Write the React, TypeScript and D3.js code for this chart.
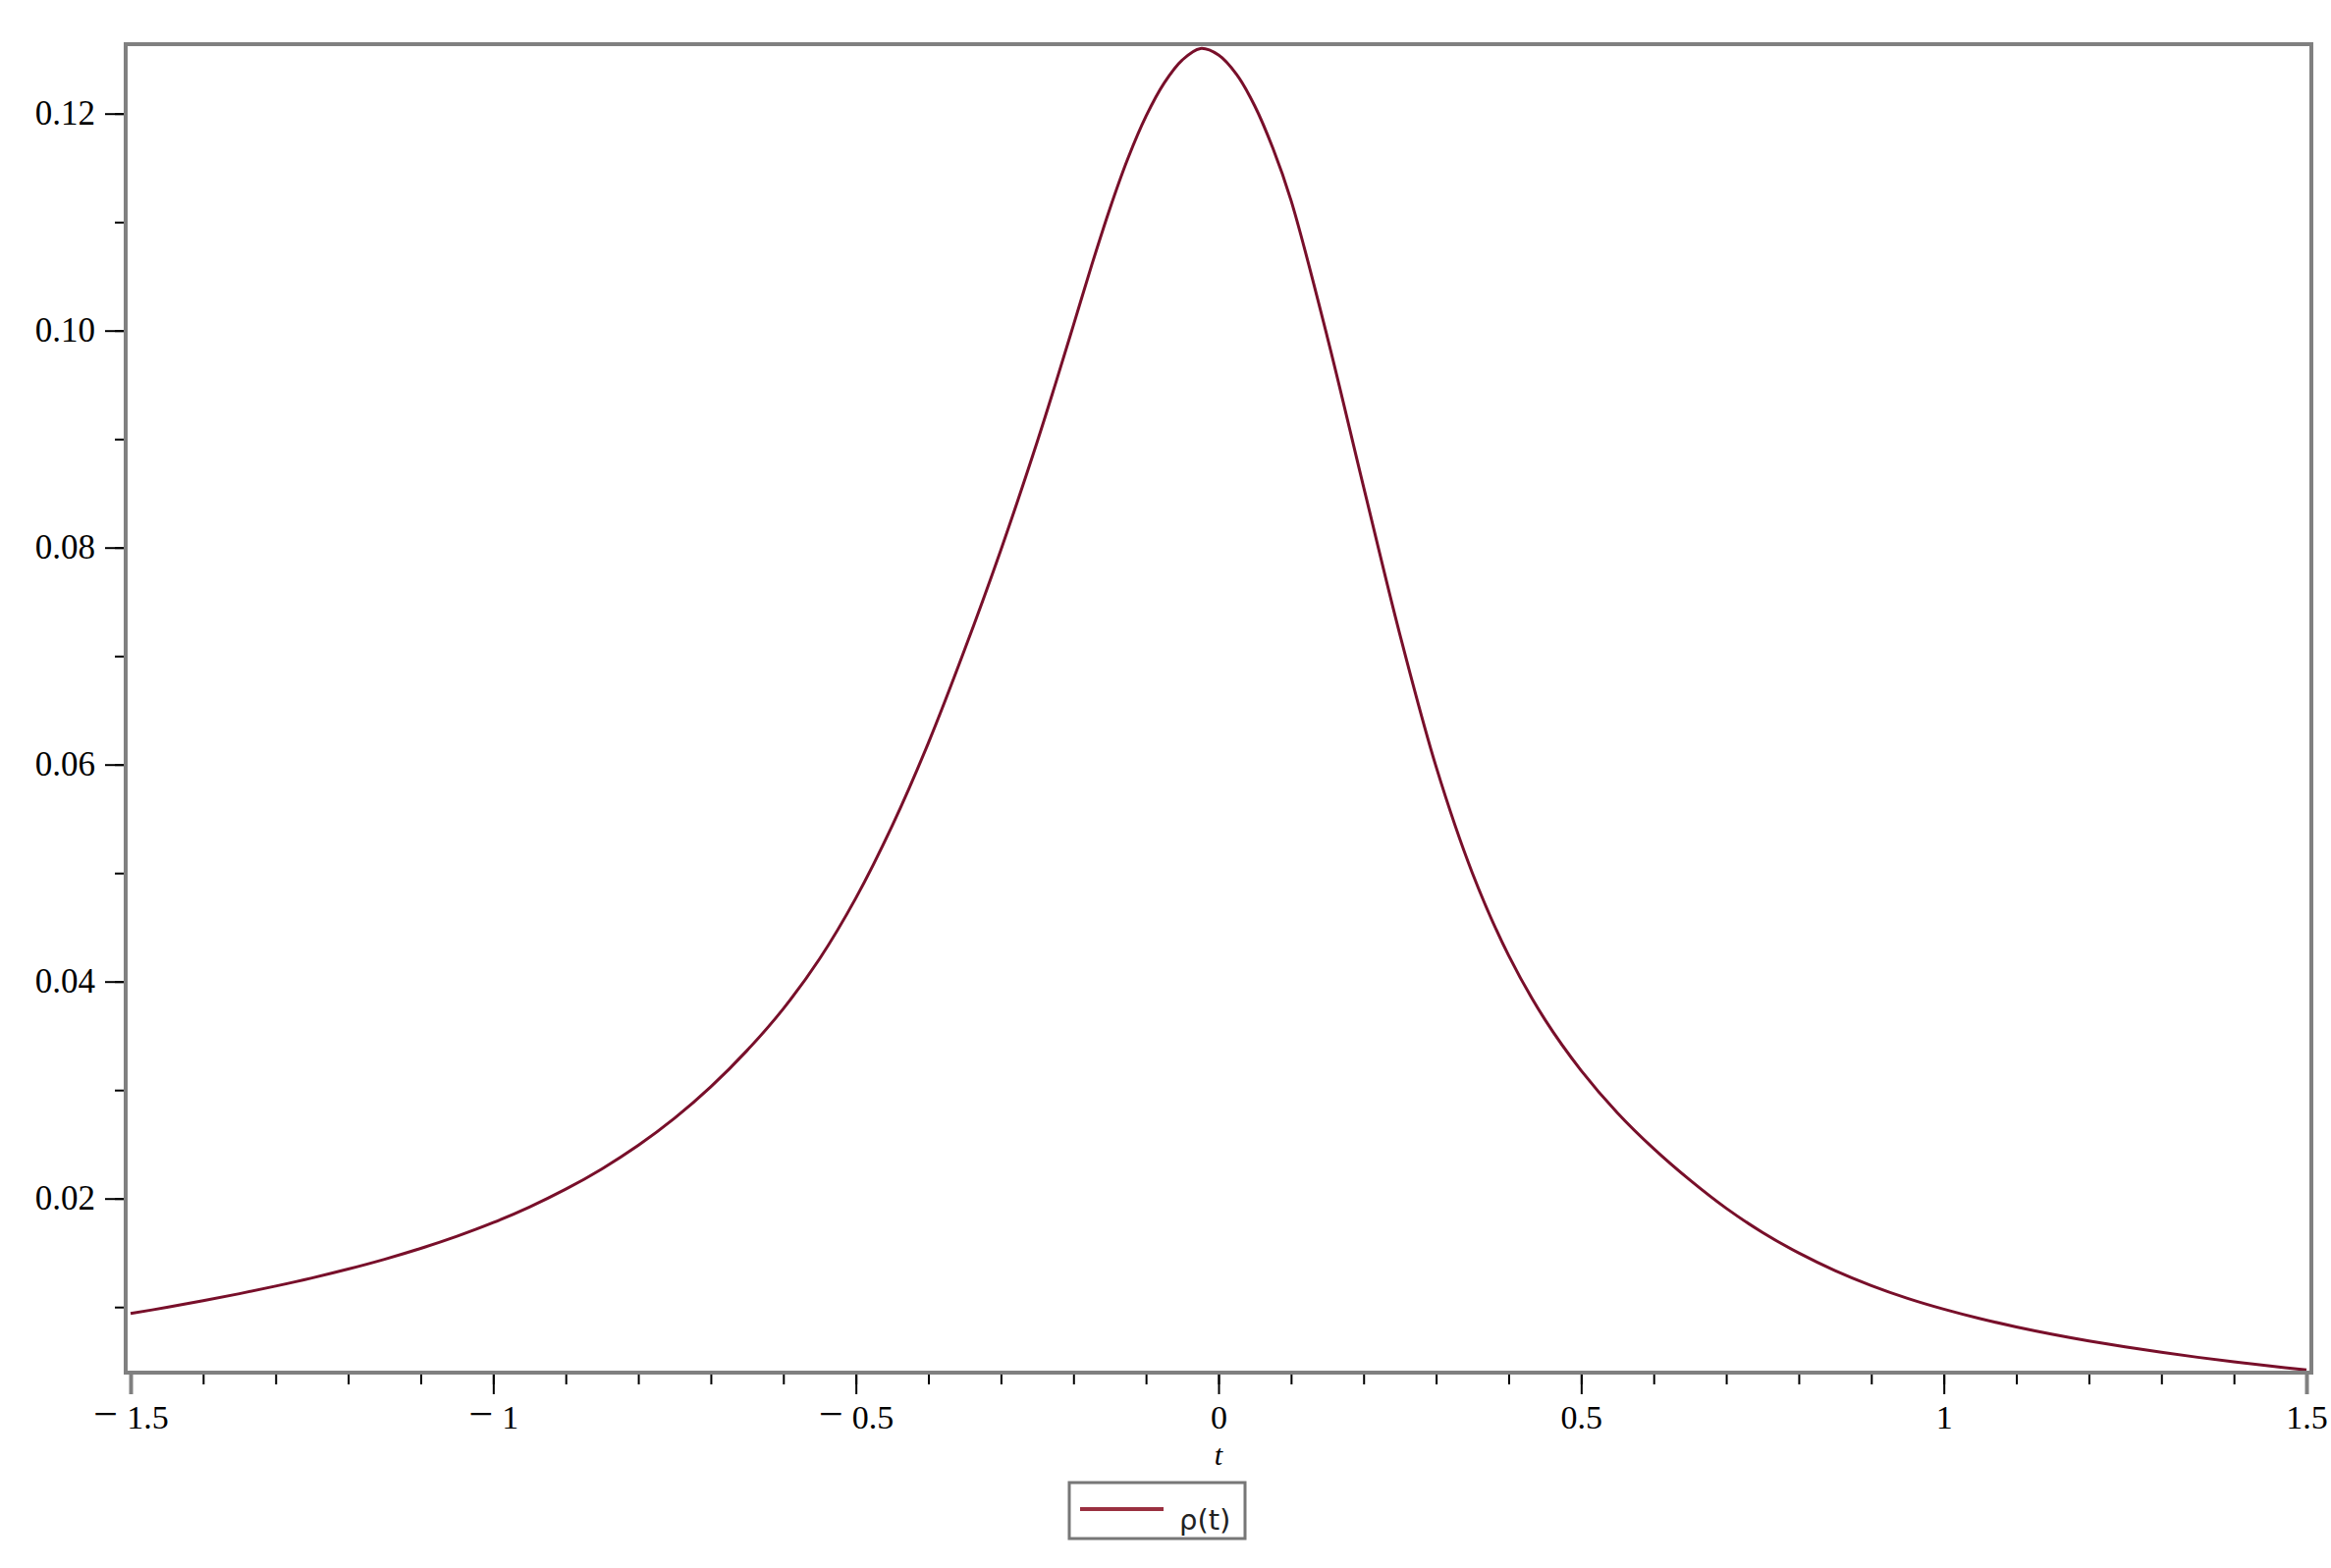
import React, { useEffect, useRef } from 'react';
import * as d3 from 'd3';

// rho(t) (denser samples around the peak)
const tValues = [
  -1.5, -1.45, -1.4, -1.35, -1.3, -1.25, -1.2, -1.15, -1.1, -1.05,
  -1.0, -0.95, -0.9, -0.85, -0.8, -0.75, -0.7, -0.65, -0.6, -0.55,
  -0.5, -0.45, -0.4, -0.35, -0.3, -0.25, -0.225, -0.2, -0.175, -0.15,
  -0.125, -0.1, -0.075, -0.05, -0.025, 0, 0.025, 0.05, 0.075, 0.1,
  0.15, 0.2, 0.25, 0.3, 0.35, 0.4, 0.45, 0.5, 0.55, 0.6,
  0.65, 0.7, 0.75, 0.8, 0.85, 0.9, 0.95, 1.0, 1.05, 1.1,
  1.15, 1.2, 1.25, 1.3, 1.35, 1.4, 1.45, 1.5
];
const rhoValues = [
  0.00940, 0.00997, 0.01058, 0.01123, 0.01193, 0.01268, 0.01350, 0.01440, 0.01540, 0.01652,
  0.01778, 0.01922, 0.02086, 0.02274, 0.02490, 0.02740, 0.03030, 0.03365, 0.03750, 0.04210,
  0.04770, 0.05435, 0.06200, 0.07060, 0.07980, 0.08975, 0.09505, 0.10050, 0.10600, 0.11120,
  0.11585, 0.11975, 0.12281, 0.12494, 0.12600, 0.12540, 0.12360, 0.12070, 0.11680, 0.11200,
  0.09940, 0.08560, 0.07200, 0.05980, 0.05000, 0.04240, 0.03650, 0.03180, 0.02790, 0.02460,
  0.02170, 0.01910, 0.01688, 0.01498, 0.01336, 0.01198, 0.01080, 0.00980, 0.00893, 0.00817,
  0.00749, 0.00688, 0.00633, 0.00583, 0.00537, 0.00495, 0.00456, 0.00420
];

// axis ticks
const xMajorTicks = [-1.5, -1, -0.5, 0, 0.5, 1, 1.5];
const xTickLabels = ['\u22121.5', '\u22121', '\u22120.5', '0', '0.5', '1', '1.5'];
const xMinorTicks = d3.range(-15, 16).map(d => d / 10);
const yMajorTicks = [0.02, 0.04, 0.06, 0.08, 0.10, 0.12];
const yTickLabels = ['0.02', '0.04', '0.06', '0.08', '0.10', '0.12'];
const yMinorTicks = d3.range(1, 13).map(d => d / 100);

const xDomain = [-1.5, 1.5];
const yDomain = [0.02, 0.12];
const legendLabel = '\u03c1(t)';
const axisTitle = 't';

export default function App() {
  const svgRef = useRef<SVGSVGElement>(null);

  const svgWidth = 2374,
        svgHeight = 1597;

  // plot frame (outer box)
  const frame = { left: 128, right: 2354, top: 45, bottom: 1398 };
  const curveColor = '#780f2a';
  const frameColor = '#808080';
  const serif = '"Liberation Serif", "Times New Roman", serif';

  useEffect(() => {
    const svg = d3.select(svgRef.current);
    svg.selectAll('*').remove();

    const x = d3.scaleLinear().domain(xDomain).range([133, 2349]);
    const y = d3.scaleLinear().domain(yDomain).range([1220.7, 115.7]);

    // x minor ticks
    const xMinor = d3.axisBottom(x).tickValues(xMinorTicks).tickSize(12).tickFormat(() => '');
    svg.append('g')
      .attr('transform', `translate(0,${frame.bottom})`)
      .call(xMinor)
      .call(g => g.select('.domain').remove())
      .call(g => g.selectAll('line').attr('stroke', '#000').attr('stroke-width', 2));

    // x major ticks + labels (the minus sign is drawn larger, like Maple does)
    const xMajor = d3.axisBottom(x).tickValues(xMajorTicks).tickSize(22)
      .tickFormat((d, i) => xTickLabels[i]);
    svg.append('g')
      .attr('transform', `translate(0,${frame.bottom})`)
      .call(xMajor)
      .call(g => g.select('.domain').remove())
      .call(g => g.selectAll('line')
        .attr('stroke', d => (Math.abs(d as number) === 1.5 ? frameColor : '#000'))
        .attr('stroke-width', d => (Math.abs(d as number) === 1.5 ? 4 : 2)))
      .call(g => g.selectAll<SVGTextElement, number>('text')
        .attr('y', 57).attr('dy', null)
        .attr('fill', '#000')
        .style('font-family', serif)
        .style('font-size', '34px')
        .each(function () {
          const el = d3.select(this);
          const s = el.text();
          if (s.startsWith('\u2212')) {
            el.text(null);
            el.append('tspan').style('font-size', '44px').text('\u2212');
            el.append('tspan').attr('dx', 9).text(s.slice(1));
          }
        }));

    // y minor ticks
    const yMinor = d3.axisLeft(y).tickValues(yMinorTicks).tickSize(11).tickFormat(() => '');
    svg.append('g')
      .attr('transform', `translate(${frame.left},0)`)
      .call(yMinor)
      .call(g => g.select('.domain').remove())
      .call(g => g.selectAll('line').attr('stroke', '#000').attr('stroke-width', 2));

    // y major ticks + labels
    const yMajor = d3.axisLeft(y).tickValues(yMajorTicks).tickSize(21).tickPadding(10)
      .tickFormat((d, i) => yTickLabels[i]);
    svg.append('g')
      .attr('transform', `translate(${frame.left},0)`)
      .call(yMajor)
      .call(g => g.select('.domain').remove())
      .call(g => g.selectAll('line').attr('stroke', '#000').attr('stroke-width', 2))
      .call(g => g.selectAll('text')
        .attr('fill', '#000')
        .style('font-family', serif)
        .style('font-size', '35px'));

    // the curve
    const points = tValues.map((t, i) => [t, rhoValues[i]] as [number, number]);
    const line = d3.line<[number, number]>()
      .x(d => x(d[0]))
      .y(d => y(d[1]))
      .curve(d3.curveCatmullRom.alpha(0.5));

    svg.append('path')
      .datum(points)
      .attr('d', line)
      .attr('fill', 'none')
      .attr('stroke', curveColor)
      .attr('stroke-width', 3);

    // frame
    svg.append('rect')
      .attr('x', frame.left)
      .attr('y', frame.top)
      .attr('width', frame.right - frame.left)
      .attr('height', frame.bottom - frame.top)
      .attr('fill', 'none')
      .attr('stroke', frameColor)
      .attr('stroke-width', 4);

    // axis title
    svg.append('text')
      .attr('x', x(0))
      .attr('y', 1492)
      .attr('text-anchor', 'middle')
      .style('font-family', serif)
      .style('font-style', 'italic')
      .style('font-size', '30px')
      .text(axisTitle);

    // legend
    const legend = svg.append('g');
    legend.append('rect')
      .attr('x', 1089).attr('y', 1510)
      .attr('width', 179).attr('height', 57)
      .attr('fill', '#fff')
      .attr('stroke', '#777')
      .attr('stroke-width', 3);
    legend.append('line')
      .attr('x1', 1100).attr('x2', 1185)
      .attr('y1', 1537).attr('y2', 1537)
      .attr('stroke', '#9a3040')
      .attr('stroke-width', 4);
    legend.append('text')
      .attr('x', 1201).attr('y', 1558)
      .attr('fill', '#222')
      .style('font-family', '"DejaVu Sans", sans-serif')
      .style('font-size', '29px')
      .text(legendLabel);
  }, []);

  return (
    <div>
      <svg
        ref={svgRef}
        width={svgWidth}
        height={svgHeight}
        style={{ position: 'absolute', left: 0, top: 0, background: '#fff' }}
      />
    </div>
  );
}
